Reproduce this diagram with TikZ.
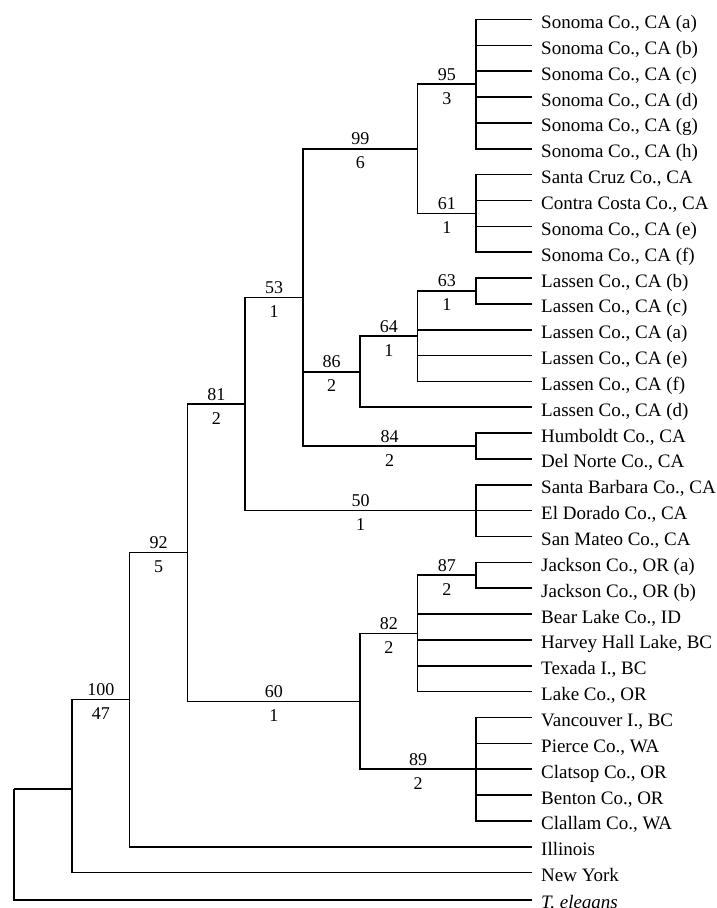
\documentclass[tikz,border=0pt]{standalone}
\usepackage{fontspec}
\setmainfont{Liberation Serif}
\newcommand\Yy[1]{(19.5+25.85*(#1))}
\tikzset{
  br/.style={line width=1.6pt},
  leaftxt/.style={anchor=base west, inner sep=0pt, font=\fontsize{19}{22}\selectfont},
  bs/.style={anchor=base, inner sep=0pt, yshift=4pt, font=\fontsize{18}{21}\selectfont},
  dc/.style={anchor=base, inner sep=0pt, yshift=-20pt, font=\fontsize{18}{21}\selectfont}
}
\newcommand\leaf[3]{%
  \coordinate (#1) at (532,{\Yy{#2}});
  \node[leaftxt] (#1t) at (541,{\Yy{#2}+9}) {#3};}
\begin{document}
\begin{tikzpicture}[x=1pt,y=-1pt]
\useasboundingbox (0,0) rectangle (717,908);
% leaves
\leaf{sa}{0}{Sonoma Co., CA (a)}
\leaf{sb}{1}{Sonoma Co., CA (b)}
\leaf{sc}{2}{Sonoma Co., CA (c)}
\leaf{sd}{3}{Sonoma Co., CA (d)}
\leaf{sg}{4}{Sonoma Co., CA (g)}
\leaf{sh}{5}{Sonoma Co., CA (h)}
\leaf{scz}{6}{Santa Cruz Co., CA}
\leaf{cc}{7}{Contra Costa Co., CA}
\leaf{se}{8}{Sonoma Co., CA (e)}
\leaf{sf}{9}{Sonoma Co., CA (f)}
\leaf{lb}{10}{Lassen Co., CA (b)}
\leaf{lc}{11}{Lassen Co., CA (c)}
\leaf{la}{12}{Lassen Co., CA (a)}
\leaf{le}{13}{Lassen Co., CA (e)}
\leaf{lf}{14}{Lassen Co., CA (f)}
\leaf{ld}{15}{Lassen Co., CA (d)}
\leaf{hu}{16}{Humboldt Co., CA}
\leaf{dn}{17}{Del Norte Co., CA}
\leaf{sba}{18}{Santa Barbara Co., CA}
\leaf{ed}{19}{El Dorado Co., CA}
\leaf{sm}{20}{San Mateo Co., CA}
\leaf{ja}{21}{Jackson Co., OR (a)}
\leaf{jb}{22}{Jackson Co., OR (b)}
\leaf{bl}{23}{Bear Lake Co., ID}
\leaf{hh}{24}{Harvey Hall Lake, BC}
\leaf{tx}{25}{Texada I., BC}
\leaf{lk}{26}{Lake Co., OR}
\leaf{vi}{27}{Vancouver I., BC}
\leaf{pc}{28}{Pierce Co., WA}
\leaf{cl}{29}{Clatsop Co., OR}
\leaf{bn}{30}{Benton Co., OR}
\leaf{ca}{31}{Clallam Co., WA}
\leaf{il}{32}{Illinois}
\leaf{ny}{33}{New York}
\coordinate (te) at (532,900);
\node[leaftxt] (tet) at (541,908) {\itshape T. elegans};
% internal nodes
\coordinate (n12) at (476,{\Yy{2.5}});
\coordinate (n13) at (476,{\Yy{7.5}});
\coordinate (n8)  at (417.5,{\Yy{5}});
\coordinate (n14) at (476,{\Yy{10.5}});
\coordinate (n11) at (417.5,{\Yy{12.25}});
\coordinate (n9)  at (360,{\Yy{13.625}});
\coordinate (n10) at (476,{\Yy{16.5}});
\coordinate (n6)  at (303,{\Yy{10.75}});
\coordinate (n7)  at (476,{\Yy{19}});
\coordinate (n4)  at (245,{\Yy{14.875}});
\coordinate (n17) at (476,{\Yy{21.5}});
\coordinate (n15) at (417.5,{\Yy{23.75}});
\coordinate (n16) at (476,{\Yy{29}});
\coordinate (n5)  at (360,{\Yy{26.375}});
\coordinate (n3)  at (187.5,{\Yy{20.625}});
\coordinate (n2)  at (129.5,{\Yy{26.3125}});
\coordinate (n1)  at (72,789);
\coordinate (rt)  at (14,789);
% branches
\draw[br] (rt) -- (n1);
\draw[br] (rt) |- (te);
\draw[br] (n1) |- (ny);
\draw[br] (n1) |- node[bs,pos=.75]{100} node[dc,pos=.75]{47} (n2);
\draw[br] (n2) |- (il);
\draw[br] (n2) |- node[bs,pos=.75]{92} node[dc,pos=.75]{5} (n3);
\draw[br] (n3) |- node[bs,pos=.75]{81} node[dc,pos=.75]{2} (n4);
\draw[br] (n3) |- node[bs,pos=.75]{60} node[dc,pos=.75]{1} (n5);
\draw[br] (n4) |- node[bs,pos=.75]{53} node[dc,pos=.75]{1} (n6);
\draw[br] (n4) |- node[bs,pos=.75]{50} node[dc,pos=.75]{1} (n7);
\draw[br] (n6) |- node[bs,pos=.75]{99} node[dc,pos=.75]{6} (n8);
\draw[br] (n6) |- node[bs,pos=.75]{86} node[dc,pos=.75]{2} (n9);
\draw[br] (n6) |- node[bs,pos=.75]{84} node[dc,pos=.75]{2} (n10);
\draw[br] (n8) |- node[bs,pos=.75]{95} node[dc,pos=.75]{3} (n12);
\draw[br] (n8) |- node[bs,pos=.75]{61} node[dc,pos=.75]{1} (n13);
\draw[br] (n9) |- node[bs,pos=.75]{64} node[dc,pos=.75]{1} (n11);
\draw[br] (n9) |- (ld);
\draw[br] (n11) |- node[bs,pos=.75]{63} node[dc,pos=.75]{1} (n14);
\draw[br] (n11) |- (la);
\draw[br] (n11) |- (le);
\draw[br] (n11) |- (lf);
\draw[br] (n5) |- node[bs,pos=.75]{82} node[dc,pos=.75]{2} (n15);
\draw[br] (n5) |- node[bs,pos=.75]{89} node[dc,pos=.75]{2} (n16);
\draw[br] (n15) |- node[bs,pos=.75]{87} node[dc,pos=.75]{2} (n17);
\foreach \c in {bl,hh,tx,lk} \draw[br] (n15) |- (\c);
\foreach \c in {sa,sb,sc,sd,sg,sh} \draw[br] (n12) |- (\c);
\foreach \c in {scz,cc,se,sf} \draw[br] (n13) |- (\c);
\foreach \c in {lb,lc} \draw[br] (n14) |- (\c);
\foreach \c in {hu,dn} \draw[br] (n10) |- (\c);
\foreach \c in {sba,ed,sm} \draw[br] (n7) |- (\c);
\foreach \c in {ja,jb} \draw[br] (n17) |- (\c);
\foreach \c in {vi,pc,cl,bn,ca} \draw[br] (n16) |- (\c);
\end{tikzpicture}
\end{document}
